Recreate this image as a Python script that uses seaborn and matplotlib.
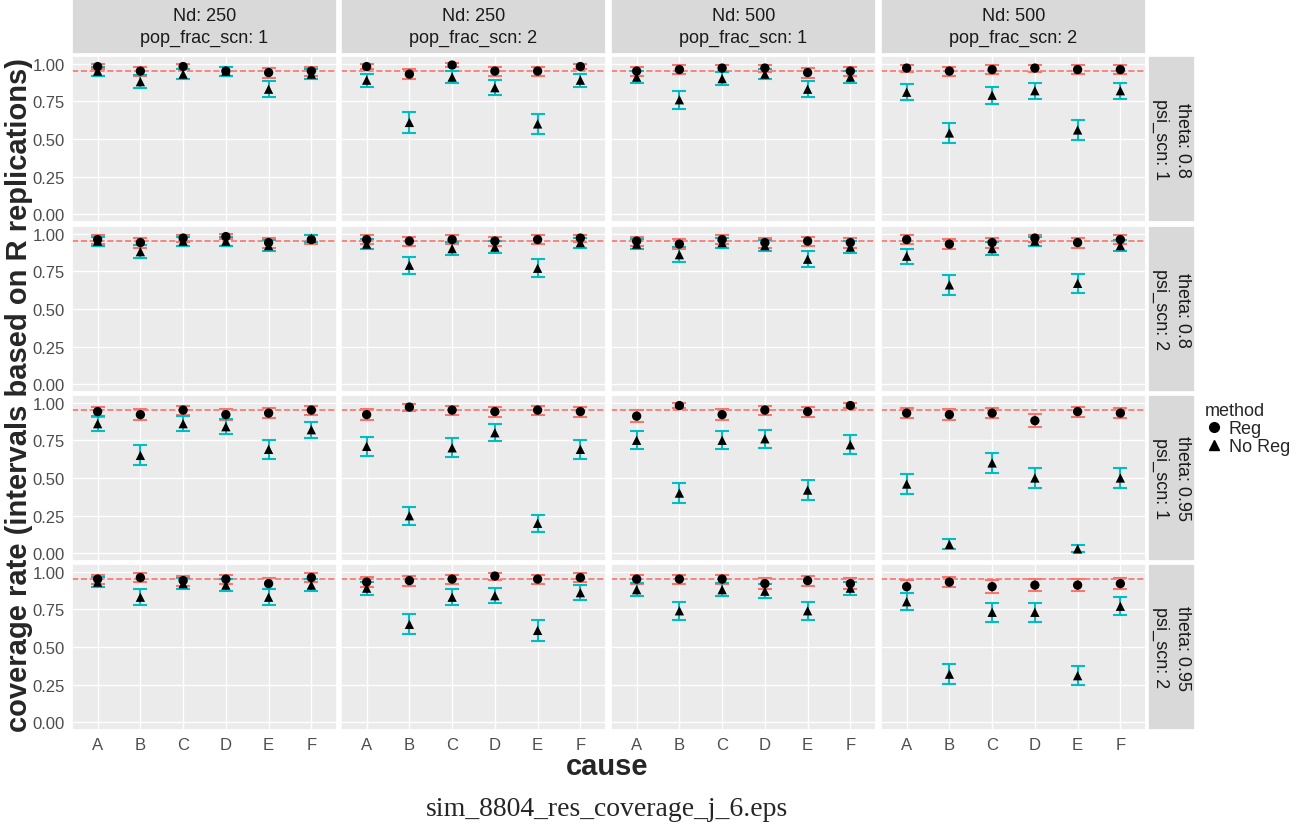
import matplotlib.pyplot as plt
import seaborn as sns
import numpy as np
import pandas as pd
from matplotlib.lines import Line2D

sns.set_theme(style="darkgrid", rc={"axes.facecolor": "#EBEBEB", "grid.color": "white"})
plt.rcParams['font.family'] = ['Liberation Sans', 'DejaVu Sans']

causes = ['A', 'B', 'C', 'D', 'E', 'F']
col_labels = ["Nd: 250\npop_frac_scn: 1", "Nd: 250\npop_frac_scn: 2",
              "Nd: 500\npop_frac_scn: 1", "Nd: 500\npop_frac_scn: 2"]
row_labels = ["theta: 0.8\npsi_scn: 1", "theta: 0.8\npsi_scn: 2",
              "theta: 0.95\npsi_scn: 1", "theta: 0.95\npsi_scn: 2"]

# coverage, [row][col] -> 6 causes
reg = [
    [[.98, .95, .98, .95, .94, .95], [.98, .93, .99, .95, .95, .98],
     [.95, .96, .97, .97, .94, .95], [.97, .95, .96, .97, .96, .96]],
    [[.96, .94, .97, .98, .94, .96], [.96, .95, .96, .95, .96, .97],
     [.95, .93, .96, .94, .95, .94], [.96, .93, .94, .97, .94, .96]],
    [[.94, .92, .95, .92, .93, .95], [.92, .97, .95, .94, .95, .94],
     [.91, .98, .92, .95, .94, .98], [.93, .92, .93, .88, .94, .93]],
    [[.95, .96, .94, .95, .92, .96], [.93, .94, .95, .97, .95, .96],
     [.95, .95, .95, .92, .94, .92], [.90, .93, .90, .91, .91, .92]],
]
noreg = [
    [[.95, .88, .93, .95, .83, .93], [.89, .61, .91, .84, .60, .89],
     [.91, .76, .90, .93, .83, .91], [.81, .54, .79, .82, .56, .82]],
    [[.95, .88, .95, .95, .92, .97], [.93, .79, .90, .91, .77, .94],
     [.93, .86, .94, .92, .83, .91], [.85, .66, .90, .95, .67, .92]],
    [[.86, .65, .86, .84, .69, .82], [.71, .25, .70, .80, .20, .69],
     [.75, .40, .75, .76, .42, .72], [.46, .06, .60, .50, .03, .50]],
    [[.93, .83, .92, .91, .83, .91], [.89, .65, .83, .84, .61, .86],
     [.88, .74, .88, .87, .74, .89], [.80, .32, .73, .73, .31, .77]],
]
n_rep = 200  # binomial interval width

red, teal = "#F8766D", "#00BFC4"
W, H = 1309, 829
fig = plt.figure(figsize=(W / 100, H / 100), dpi=100)

xs = [72, 341, 611, 881]
pw = 265
ys = [57, 227, 396, 565]
ph = 166

for r in range(4):
    for c in range(4):
        ax = fig.add_axes([xs[c] / W, 1 - (ys[r] + ph) / H, pw / W, ph / H])
        rows = []
        for m, vals, col in [("Reg", reg[r][c], red), ("No Reg", noreg[r][c], teal)]:
            v = np.array(vals)
            half = 1.96 * np.sqrt(v * (1 - v) / n_rep)
            ax.errorbar(np.arange(6), v, yerr=half, fmt='none', ecolor=col,
                        elinewidth=1.5, capsize=5, capthick=1.5, zorder=2)
            for k, val in enumerate(vals):
                rows.append({"cause": causes[k], "cov": val, "method": m})
        df = pd.DataFrame(rows)
        sns.scatterplot(data=df, x="cause", y="cov", style="method",
                        markers={"Reg": 'o', "No Reg": '^'}, color="black",
                        s=45, edgecolor="none", legend=False, ax=ax, zorder=3)
        ax.axhline(0.95, color=red, ls='--', lw=1.2, zorder=1)
        ax.set_xlim(-0.6, 5.6)
        ax.set_ylim(-0.05, 1.05)
        ax.set_yticks([0, .25, .5, .75, 1])
        ax.set_xlabel("")
        ax.set_ylabel("")
        ax.tick_params(length=3, color="#333333", labelsize=12, labelcolor="#4D4D4D", pad=2)
        if c == 0:
            ax.set_yticklabels(["0.00", "0.25", "0.50", "0.75", "1.00"])
        else:
            ax.set_yticklabels([])
        if r < 3:
            ax.set_xticklabels([])
        ax.grid(True, which='major', lw=1.0)
        # strips
        if r == 0:
            sa = fig.add_axes([xs[c] / W, 1 - 55 / H, pw / W, 55 / H])
            sa.set_facecolor("#D9D9D9")
            sa.set_xticks([]); sa.set_yticks([]); sa.grid(False)
            sa.text(0.5, 0.5, col_labels[c], ha='center', va='center', fontsize=13,
                    color="#1A1A1A", linespacing=1.3)
        if c == 3:
            sa = fig.add_axes([1148 / W, 1 - (ys[r] + ph) / H, 47 / W, ph / H])
            sa.set_facecolor("#D9D9D9")
            sa.set_xticks([]); sa.set_yticks([]); sa.grid(False)
            sa.text(0.5, 0.5, row_labels[r], ha='center', va='center', fontsize=13,
                    rotation=270, color="#1A1A1A", linespacing=1.3)

handles = [Line2D([], [], color='black', marker='o', ls='none', markersize=7),
           Line2D([], [], color='black', marker='^', ls='none', markersize=7)]
leg = fig.legend(handles, ["Reg", "No Reg"], title="method", loc='upper left',
                 bbox_to_anchor=(1198 / W, 1 - 396 / H), frameon=False, fontsize=13,
                 title_fontsize=13, handletextpad=0.3, borderaxespad=0, labelspacing=0.05,
                 handlelength=1)
leg._legend_box.align = "left"

fig.text(19 / W, 1 - 395 / H, "coverage rate (intervals based on R replications)",
         rotation=90, ha='center', va='center', fontsize=21, fontweight='bold')
fig.text(607 / W, 1 - 767 / H, "cause", ha='center', va='center', fontsize=21, fontweight='bold')
fig.text(607 / W, 1 - 810 / H, "sim_8804_res_coverage_j_6.eps", ha='center', va='center',
         fontsize=20, family=['Liberation Serif', 'DejaVu Serif'])

plt.savefig('out.png', dpi=100)
